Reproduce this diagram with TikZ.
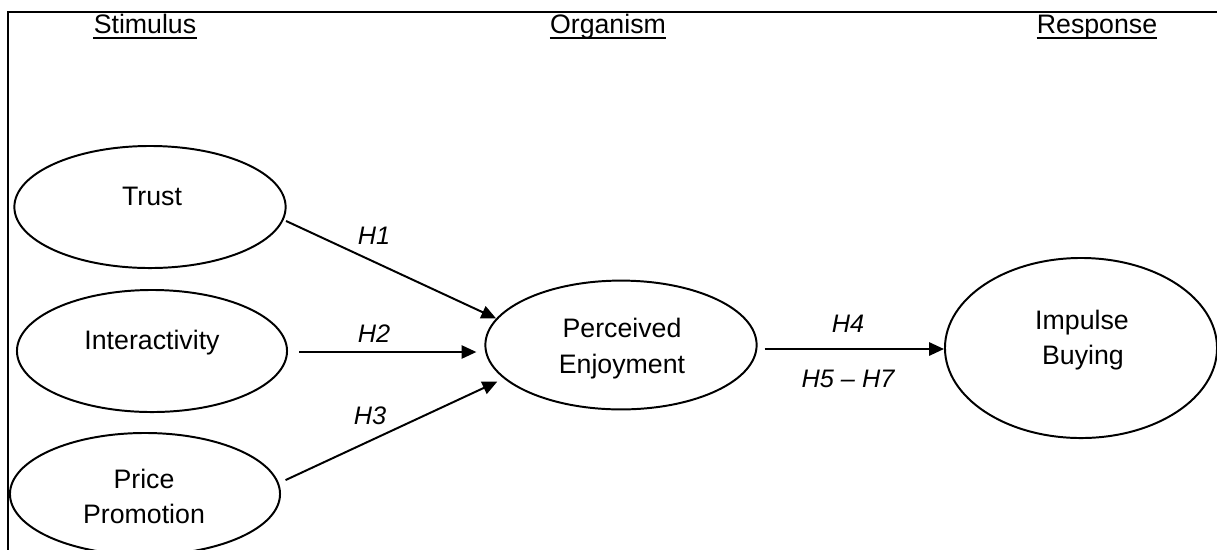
\documentclass[tikz,border=0pt]{standalone}
\usepackage{fontspec}
\setmainfont{Liberation Sans}
\usetikzlibrary{shapes.geometric,arrows.meta,calc}
\begin{document}
\begin{tikzpicture}[x=0.025cm,y=-0.025cm,
  ell/.style={draw,ellipse,line width=1.4pt,inner sep=0pt},
  txt/.style={anchor=base,inner sep=0pt,font=\fontsize{19}{23}\selectfont},
  hyp/.style={anchor=base,inner sep=0pt,font=\fontsize{18}{22}\selectfont\itshape},
  arr/.style={line width=1.4pt,-{Triangle[length=0.37cm,width=0.33cm]}},
  ul/.style={line width=1.2pt},
  frame/.style={line width=1.1pt}]
\useasboundingbox (0,0) rectangle (1217,549);
% frame
\draw[frame] (8,560) -- (8,12) -- (1230,12);
% headings
\node[txt] (stim) at (145,33) {Stimulus};
\node[txt] (org) at (608,33) {Organism};
\node[txt] (resp) at (1097,33) {Response};
\draw[ul] ($(stim.base west)+(0,5)$) -- ($(stim.base east)+(0,5)$);
\draw[ul] ($(org.base west)+(0,5)$) -- ($(org.base east)+(0,5)$);
\draw[ul] ($(resp.base west)+(0,5)$) -- ($(resp.base east)+(0,5)$);
% ellipses
\node[ell,minimum width=6.78cm,minimum height=3.05cm] (trust) at (150,207) {};
\node[ell,minimum width=6.75cm,minimum height=3.05cm] (inter) at (152,351) {};
\node[ell,minimum width=6.75cm,minimum height=3.05cm] (price) at (145,494) {};
\node[ell,minimum width=6.78cm,minimum height=3.22cm] (pe) at (621,345) {};
\node[ell,minimum width=6.8cm,minimum height=4.5cm] (ib) at (1081,348) {};
% texts
\node[txt] (ttrust) at (152,205) {Trust};
\node[txt] (tinter) at (152,349) {Interactivity};
\node[txt] (tprice1) at (144,488) {Price};
\node[txt] (tprice2) at (144,523) {Promotion};
\node[txt] (tpe1) at (622,337) {Perceived};
\node[txt] (tpe2) at (622,373) {Enjoyment};
\node[txt] (tib1) at (1082,329) {Impulse};
\node[txt] (tib2) at (1083,364) {Buying};
% arrows
\draw[arr] ($(trust.-6)+(3,0)$) -- (pe.168);
\draw[arr,shorten >=0.2cm] ($(inter.east)+(11,1)$) coordinate (h2a) -- (h2a -| pe.west);
\draw[arr,shorten >=0.18cm] ($(price.6)+(8,0)$) -- (pe.196);
\draw[arr] ($(pe.east)+(7,4)$) coordinate (h4a) -- (h4a -| ib.west);
% hypothesis labels
\node[hyp] (h1) at (374,244) {H1};
\node[hyp] (h2) at (374,342) {H2};
\node[hyp] (h3) at (370,424) {H3};
\node[hyp] (h4) at (848,332) {H4};
\node[hyp] (h57) at (848,387) {H5 – H7};
\end{tikzpicture}
\end{document}
